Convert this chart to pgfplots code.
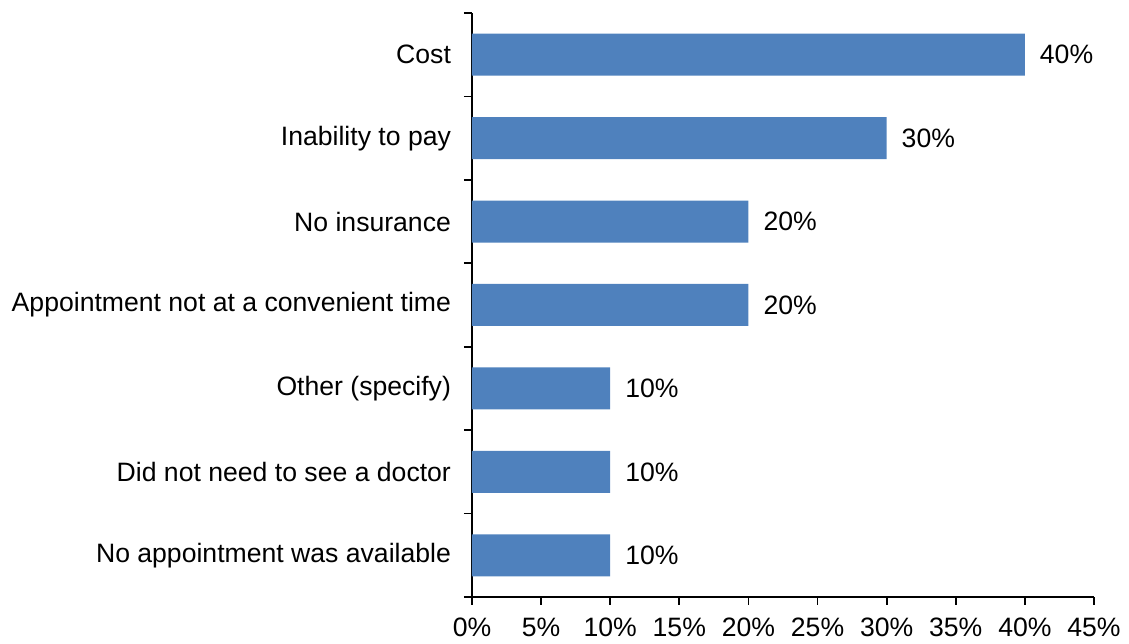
\documentclass[border=0pt]{standalone}
\usepackage{pgfplots}
\pgfplotsset{compat=1.18}
\usepackage{fontspec}
\setmainfont{Liberation Sans}
\definecolor{barblue}{RGB}{79,129,189}
\begin{document}
\begin{tikzpicture}
\begin{axis}[
  scale only axis,
  width=311pt, height=292pt,
  xbar, bar width=21pt,
  xmin=0, xmax=45,
  ymin=-0.5, ymax=6.5,
  axis x line*=bottom, axis y line*=left,
  axis line style={line width=0.9pt, black},
  every tick/.style={line width=0.9pt, black},
  tick align=outside,
  major tick length=4pt,
  xtick={0,5,...,45},
  xticklabel={\pgfmathprintnumber{\tick}\%},
  /pgf/number format/assume math mode=true,
  ytick={-0.5,0.5,...,6.5},
  y tick label as interval,
  yticklabels={No appointment was available,Did not need to see a doctor,Other (specify),Appointment not at a convenient time,No insurance,Inability to pay,Cost},
  tick label style={font=\fontsize{13.3}{16}\selectfont, black},
  xticklabel style={yshift=-3pt},
  yticklabel style={xshift=-3pt},
  nodes near coords={\pgfmathprintnumber{\pgfplotspointmeta}\%},
  point meta=x,
  nodes near coords style={font=\fontsize{13.3}{16}\selectfont, black, anchor=west, xshift=4pt},
]
\addplot[fill=barblue, draw=none] coordinates {
  (10,0) (10,1) (10,2) (20,3) (20,4) (30,5) (40,6)
};
\coordinate (bl) at (rel axis cs:0,0);
\coordinate (tr) at (rel axis cs:1,1);
\end{axis}
\pgfresetboundingbox
\path[use as bounding box] ([xshift=-236pt,yshift=-23.5pt]bl) rectangle ([xshift=17.5pt,yshift=6.5pt]tr);
\end{tikzpicture}
\end{document}
